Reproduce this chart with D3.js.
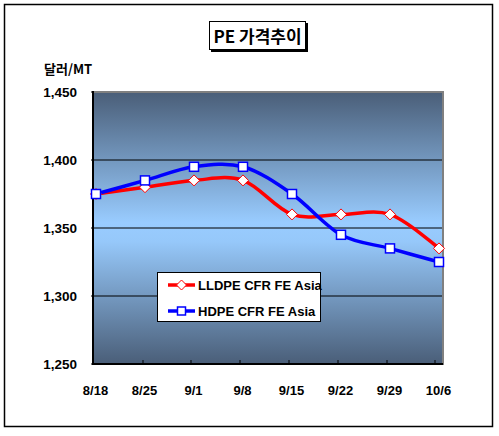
<!DOCTYPE html>
<html><head><meta charset="utf-8">
<script src="https://cdn.jsdelivr.net/npm/d3@7"></script>
<style>body{margin:0;background:#fff}svg{display:block}</style>
</head><body>
<script>
const categories = ["8/18","8/25","9/1","9/8","9/15","9/22","9/29","10/6"];
const lldpe = [1375,1380,1385,1385,1360,1360,1360,1335];
const hdpe  = [1375,1385,1395,1395,1375,1345,1335,1325];
const yTicks = [1250,1300,1350,1400,1450];
const seriesNames = ["LLDPE CFR FE Asia","HDPE CFR FE Asia"];

const W=499,H=436;
const svg=d3.select("body").append("svg").attr("width",W).attr("height",H);
const font="'Liberation Sans', Arial, sans-serif";

// outer border
svg.append("rect").attr("x",4.5).attr("y",4.5).attr("width",488).attr("height",422)
  .attr("fill","#fff").attr("stroke","#000").attr("stroke-width",1.5);

const L=93,R=441,T=92,B=364;
const x=d3.scalePoint().domain(categories).range([96,439]);
const y=d3.scaleLinear().domain([1250,1450]).range([B,T]);

const defs=svg.append("defs");
const g=defs.append("linearGradient").attr("id","bg").attr("x1",0).attr("y1",0).attr("x2",0).attr("y2",1);
g.append("stop").attr("offset","0%").attr("stop-color","#4a5e78");
g.append("stop").attr("offset","48%").attr("stop-color","#99ccff");
g.append("stop").attr("offset","55%").attr("stop-color","#96c8fa");
g.append("stop").attr("offset","100%").attr("stop-color","#4a5e78");

svg.append("rect").attr("x",L).attr("y",T).attr("width",R-L+2).attr("height",B-T)
  .attr("fill","url(#bg)").attr("stroke","#808080").attr("stroke-width",2);

// gridlines
svg.append("g").selectAll("line").data(yTicks.filter(d=>d>1250&&d<1450)).join("line")
  .attr("x1",L).attr("x2",R+1).attr("y1",d=>y(d)).attr("y2",d=>y(d))
  .attr("stroke","#000").attr("stroke-width",1);

// axes lines
svg.append("line").attr("x1",L).attr("x2",L).attr("y1",T-1).attr("y2",B+1).attr("stroke","#000").attr("stroke-width",2);
svg.append("line").attr("x1",L).attr("x2",R+2).attr("y1",B).attr("y2",B).attr("stroke","#000").attr("stroke-width",2);

// y axis labels
const yAxis=d3.axisLeft(y).tickValues(yTicks).tickSize(0).tickPadding(0).tickFormat(d3.format(","));
const ya=svg.append("g").attr("transform",`translate(${L-16},0)`).call(yAxis);
ya.select(".domain").remove();
ya.selectAll("text").attr("font-family",font).attr("font-weight","bold").attr("font-size",13.5).attr("fill","#000");
svg.append("g").selectAll("line").data(yTicks).join("line")
  .attr("x1",L-2).attr("x2",L).attr("y1",d=>y(d)).attr("y2",d=>y(d)).attr("stroke","#000");

// x axis
const xAxis=d3.axisBottom(x).tickSize(0).tickPadding(0);
const xa=svg.append("g").attr("transform",`translate(-1,${B+22})`).call(xAxis);
xa.select(".domain").remove();
xa.selectAll("text").attr("font-family",font).attr("font-weight","bold").attr("font-size",13).attr("fill","#000");
const tickX=[93,143,191,240,289,338,387,435];
svg.append("g").selectAll("line").data(tickX).join("line")
  .attr("x1",d=>d).attr("x2",d=>d).attr("y1",B-4).attr("y2",B).attr("stroke","#000");

// lines
const line=d3.line().x((d,i)=>x(categories[i])).y(d=>y(d)).curve(d3.curveCatmullRom.alpha(0));
svg.append("path").datum(lldpe).attr("d",line).attr("fill","none").attr("stroke","#ff0000").attr("stroke-width",3.5);
svg.append("path").datum(hdpe).attr("d",line).attr("fill","none").attr("stroke","#0000ff").attr("stroke-width",3.5);

// markers
const diamond=(cx,cy,s)=>`M${cx},${cy-s}L${cx+s},${cy}L${cx},${cy+s}L${cx-s},${cy}Z`;
svg.append("g").selectAll("path").data(lldpe).join("path")
  .attr("d",(d,i)=>diamond(x(categories[i]),y(d),5.5))
  .attr("fill","#fff").attr("stroke","#ff0000").attr("stroke-width",1);
svg.append("g").selectAll("rect").data(hdpe).join("rect")
  .attr("x",(d,i)=>x(categories[i])-4.5).attr("y",d=>y(d)-4.5).attr("width",9).attr("height",9)
  .attr("fill","#fff").attr("stroke","#0000ff").attr("stroke-width",1.5);

// legend
const lg=svg.append("g");
lg.append("rect").attr("x",157.5).attr("y",272.5).attr("width",163).attr("height",49).attr("fill","#fff").attr("stroke","#000");
const items=[{n:seriesNames[0],c:"#ff0000",m:"d"},{n:seriesNames[1],c:"#0000ff",m:"s"}];
items.forEach((it,i)=>{
  const cy=285+i*26;
  lg.append("line").attr("x1",168).attr("x2",195).attr("y1",cy).attr("y2",cy).attr("stroke",it.c).attr("stroke-width",3.5);
  if(it.m==="d") lg.append("path").attr("d",diamond(181.5,cy,5)).attr("fill","#fff").attr("stroke",it.c);
  else lg.append("rect").attr("x",177.5).attr("y",cy-4).attr("width",8).attr("height",8).attr("fill","#fff").attr("stroke",it.c).attr("stroke-width",1.5);
  lg.append("text").attr("x",198).attr("y",cy+5).attr("font-family",font).attr("font-size",13).attr("font-weight","bold").attr("fill","#000").text(it.n);
});

// title box
svg.append("rect").attr("x",211).attr("y",23).attr("width",97).attr("height",29).attr("fill","#000");
svg.append("rect").attr("x",209.5).attr("y",21.5).attr("width",96).attr("height",28).attr("fill","#fff").attr("stroke","#000");
svg.append("text").attr("x",257.5).attr("y",43).attr("text-anchor","middle").attr("font-family","'Noto Sans CJK KR', sans-serif").attr("font-weight","bold").attr("font-size",17).attr("fill","#000").text("PE 가격추이");

// y unit label
svg.append("text").attr("x",44).attr("y",74).attr("font-family","'Noto Sans CJK KR', sans-serif").attr("font-weight","bold").attr("font-size",13).attr("fill","#000").text("달러/MT");
</script>
</body></html>
